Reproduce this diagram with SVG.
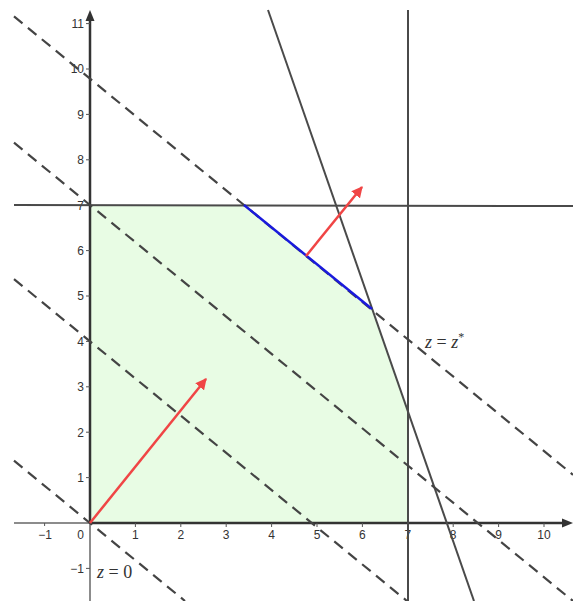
<svg xmlns="http://www.w3.org/2000/svg" width="573" height="601" viewBox="0 0 573 601">
<style>
.axis{stroke:#666;stroke-width:1.5;fill:none}
.bold{stroke:#333;stroke-width:2.5;fill:none}
.con{stroke:#4a4a4a;stroke-width:2;fill:none}
.dash{stroke:#444;stroke-width:2.2;stroke-dasharray:11 7;fill:none}
.tick{stroke:#555;stroke-width:1}
.lbl{font-family:"Liberation Sans",Arial,sans-serif;font-size:12px;fill:#333}
.xl{text-anchor:middle}
.yl{text-anchor:end}
.vec{stroke:#f04545;stroke-width:2.5;fill:none}
.math{font-family:"Liberation Serif","Times New Roman",serif;font-size:18px;fill:#333}
</style>
<defs>
<marker id="ah" viewBox="0 0 10 10" refX="9" refY="5" markerWidth="4.5" markerHeight="4.5" orient="auto" markerUnits="strokeWidth">
<path d="M0,0 L10,5 L0,10 Z" fill="#f04545"/>
</marker>
</defs>
<rect width="573" height="601" fill="#ffffff"/>
<g id="feasible-region">
<polygon points="90,523 90,205 244,205 372,309 408,411 408,523" fill="#e8fce4"/>
</g>
<g id="axes">
<line class="axis" x1="14" y1="523" x2="570" y2="523"/>
<line class="axis" x1="90" y1="601" x2="90" y2="14"/>
<line class="bold" x1="90" y1="523" x2="566" y2="523"/>
<line class="bold" x1="90" y1="523" x2="90" y2="18"/>
<path d="M573,523 L562,518.5 L562,527.5 Z" fill="#333"/>
<path d="M90,10 L85.5,21 L94.5,21 Z" fill="#333"/>
<g id="ticks">
<line class="tick" x1="44.6" y1="523" x2="44.6" y2="526"/>
<line class="tick" x1="135.4" y1="523" x2="135.4" y2="527"/>
<line class="tick" x1="180.8" y1="523" x2="180.8" y2="527"/>
<line class="tick" x1="226.2" y1="523" x2="226.2" y2="527"/>
<line class="tick" x1="271.6" y1="523" x2="271.6" y2="527"/>
<line class="tick" x1="317" y1="523" x2="317" y2="527"/>
<line class="tick" x1="362.4" y1="523" x2="362.4" y2="527"/>
<line class="tick" x1="407.8" y1="523" x2="407.8" y2="527"/>
<line class="tick" x1="453.2" y1="523" x2="453.2" y2="527"/>
<line class="tick" x1="498.6" y1="523" x2="498.6" y2="527"/>
<line class="tick" x1="544" y1="523" x2="544" y2="527"/>
<line class="tick" x1="86" y1="568.4" x2="90" y2="568.4"/>
<line class="tick" x1="86" y1="477.6" x2="90" y2="477.6"/>
<line class="tick" x1="86" y1="432.2" x2="90" y2="432.2"/>
<line class="tick" x1="86" y1="386.8" x2="90" y2="386.8"/>
<line class="tick" x1="86" y1="341.4" x2="90" y2="341.4"/>
<line class="tick" x1="86" y1="296" x2="90" y2="296"/>
<line class="tick" x1="86" y1="250.6" x2="90" y2="250.6"/>
<line class="tick" x1="86" y1="205.2" x2="90" y2="205.2"/>
<line class="tick" x1="86" y1="159.8" x2="90" y2="159.8"/>
<line class="tick" x1="86" y1="114.4" x2="90" y2="114.4"/>
<line class="tick" x1="86" y1="69" x2="90" y2="69"/>
<line class="tick" x1="86" y1="23.6" x2="90" y2="23.6"/>
</g>
<g id="tick-labels">
<text class="lbl xl" x="45" y="539">−1</text>
<text class="lbl yl" x="84" y="539">0</text>
<text class="lbl xl" x="135.4" y="539">1</text>
<text class="lbl xl" x="180.8" y="539">2</text>
<text class="lbl xl" x="226.2" y="539">3</text>
<text class="lbl xl" x="271.6" y="539">4</text>
<text class="lbl xl" x="317" y="539">5</text>
<text class="lbl xl" x="362.4" y="539">6</text>
<text class="lbl xl" x="407.8" y="539">7</text>
<text class="lbl xl" x="453.2" y="539">8</text>
<text class="lbl xl" x="498.6" y="539">9</text>
<text class="lbl xl" x="544" y="539">10</text>
<text class="lbl yl" x="84" y="573">−1</text>
<text class="lbl yl" x="84" y="482">1</text>
<text class="lbl yl" x="84" y="436.5">2</text>
<text class="lbl yl" x="84" y="391">3</text>
<text class="lbl yl" x="84" y="345.5">4</text>
<text class="lbl yl" x="84" y="300">5</text>
<text class="lbl yl" x="84" y="255">6</text>
<text class="lbl yl" x="84" y="209.5">7</text>
<text class="lbl yl" x="84" y="164">8</text>
<text class="lbl yl" x="84" y="118.5">9</text>
<text class="lbl yl" x="84" y="73">10</text>
<text class="lbl yl" x="84" y="28">11</text>
</g>
</g>
<g id="connectors">
<line class="con" x1="14" y1="205" x2="573" y2="206"/>
<line class="con" x1="408" y1="10" x2="408" y2="601"/>
<line class="con" x1="268" y1="10" x2="474" y2="601"/>
<line class="dash" x1="14" y1="460.7" x2="185" y2="601"/>
<line class="dash" x1="14" y1="279.1" x2="407" y2="601"/>
<line class="dash" x1="14" y1="142.7" x2="573" y2="601"/>
<line class="dash" x1="14" y1="16.4" x2="573" y2="474.8"/>
<line id="optimal-edge" x1="244" y1="205" x2="372" y2="309" stroke="#1a1adc" stroke-width="2.5"/>
<line class="vec" x1="90" y1="523" x2="206" y2="379" marker-end="url(#ah)"/>
<line class="vec" x1="306" y1="256" x2="362" y2="187" marker-end="url(#ah)"/>
</g>
<g id="labels">
<text class="math" x="97" y="578"><tspan font-style="italic">z</tspan> = 0</text>
<text class="math" x="425" y="348"><tspan font-style="italic">z</tspan> = <tspan font-style="italic">z</tspan><tspan font-size="12" dy="-7">*</tspan></text>
</g>
</svg>
